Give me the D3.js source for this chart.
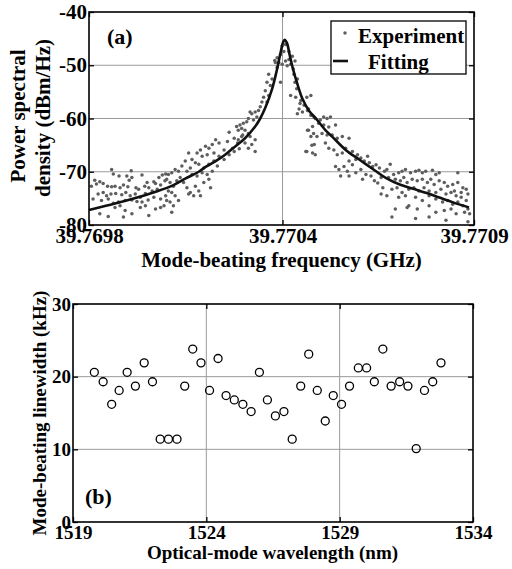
<!DOCTYPE html>
<html><head><meta charset="utf-8">
<script src="https://cdn.jsdelivr.net/npm/d3@7"></script>
<style>
body{margin:0;background:#fff}
text{font-family:"Liberation Serif","Times New Roman",serif;font-weight:bold;fill:#000}
</style>
</head><body>
<svg id="chart" width="512" height="569"></svg>
<script>
// ---------- Panel (a) data ----------
// x: frequency offset in kHz from 39.7698 GHz; y: PSD in dBm/Hz
const freqTickValues = [0, 573, 1140];
const freqTickLabels = ["39.7698", "39.7704", "39.7709"];
const psdTickValues = [-80, -70, -60, -50, -40];
const psdGrid = [-70, -60, -50];

const experimentPoints = [
[67,-69.6],[125,-69.8],[72,-70.4],[17,-71.6],[32,-71.9],[42,-72.2],[89,-70.8],[112,-70.8],[127,-71.1],[119,-71.6],[157,-70.6],[172,-72.0],[192,-71.9],[207,-71.1],[217,-70.6],[227,-70.4],
[7,-72.7],[22,-72.3],[55,-72.7],[67,-72.8],[77,-72.7],[92,-73.0],[102,-72.5],[115,-72.8],[139,-73.0],[147,-73.3],[165,-72.7],[177,-73.0],[197,-72.2],[212,-72.5],[225,-71.7],
[27,-74.2],[42,-73.9],[52,-74.5],[65,-74.2],[79,-74.1],[97,-74.3],[109,-73.9],[122,-74.5],[137,-74.2],[152,-74.8],[167,-74.1],[187,-73.6],[202,-73.3],
[12,-75.1],[37,-75.4],[57,-75.1],[72,-75.9],[87,-75.7],[107,-75.4],[127,-75.3],[142,-75.6],[157,-75.7],[175,-75.3],[192,-74.8],[212,-75.1],[227,-74.5],
[32,-77.9],[57,-78.4],[77,-76.7],[92,-76.4],[107,-77.3],[127,-77.9],[152,-76.7],[167,-76.4],[197,-77.0],[212,-76.7],[222,-76.4],[102,-78.5],[177,-78.2],
[415,-62.6],[430,-63.7],[410,-64.3],[440,-64.6],[455,-63.1],[425,-65.6],[400,-65.9],[385,-64.6],[375,-64.0],[365,-64.9],[355,-65.6],[345,-65.2],[330,-65.9],[320,-66.5],[335,-67.1],[350,-66.8],[370,-66.5],[385,-67.1],[400,-67.7],[415,-66.8],[430,-66.2],[445,-65.7],
[295,-66.5],[305,-67.7],[315,-68.3],[285,-68.0],[275,-68.9],[265,-69.9],[255,-69.6],[245,-70.2],[235,-70.5],[290,-69.9],[300,-69.3],[325,-68.6],[340,-69.3],[355,-68.6],[370,-68.0],[380,-68.9],[365,-69.9],[350,-70.5],[335,-70.2],[320,-70.8],[305,-70.5],
[230,-71.4],[240,-72.0],[250,-72.7],[260,-71.7],[270,-71.1],[280,-72.0],[290,-73.0],[300,-73.9],[315,-72.7],[325,-73.6],[340,-72.0],[355,-71.4],[360,-73.0],[330,-74.5],[310,-74.5],[295,-74.2],[245,-73.9],[235,-73.6],[255,-74.5],[240,-75.7],[250,-76.4],[265,-75.4],[245,-77.6],[230,-75.4],
[572,-46.4],[582,-46.1],[577,-47.4],[567,-48.0],[557,-48.6],[552,-49.5],[562,-49.5],[582,-49.2],[592,-48.9],[597,-49.8],[587,-50.1],[572,-49.8],[602,-48.3],[557,-50.4],[550,-49.1],[592,-47.4],
[532,-51.7],[542,-52.6],[527,-53.2],[537,-53.8],[522,-54.8],[532,-55.7],[517,-56.0],[512,-56.9],[527,-56.9],[507,-57.8],[502,-58.5],[492,-58.8],[482,-59.1],[477,-58.8],[497,-59.7],[487,-60.3],[472,-60.0],[467,-60.6],[457,-60.9],[447,-61.2],[437,-61.5],[442,-62.2],[452,-61.9],[462,-62.2],[472,-62.8],[477,-63.4],[452,-63.4],[442,-64.0],[462,-64.6],[482,-64.9],[567,-53.2],
[607,-51.7],[617,-52.6],[597,-55.7],[612,-56.0],[627,-56.6],[637,-57.5],[632,-58.8],[647,-58.5],[657,-59.4],[667,-59.8],[662,-61.5],[647,-62.2],[657,-63.4],[667,-64.9],[642,-66.2],[662,-66.5],[617,-59.1],[622,-58.2],
[492,-64.0],[472,-65.6],[492,-66.2],
[610,-49.2],[605,-50.7],[610,-53.2],[615,-54.4],[657,-55.7],[625,-57.2],
[645,-56.0],[650,-58.2],[660,-59.4],[670,-60.0],[685,-60.3],[695,-59.7],[705,-60.0],[715,-59.7],[680,-60.9],[695,-61.2],[710,-61.6],[730,-61.2],[650,-62.2],[665,-62.8],[675,-63.4],[690,-62.8],[705,-63.1],[720,-63.1],[735,-63.7],[750,-63.4],[770,-63.7],[660,-65.0],[645,-66.2],[670,-66.8],[700,-64.6],[710,-65.6],[725,-65.9],[735,-66.8],[750,-66.5],[760,-65.6],[780,-66.2],[795,-66.8],[790,-67.7],[805,-67.4],[815,-68.0],[825,-67.1],[830,-68.3],[840,-69.0],[850,-68.7],[860,-69.3],[770,-68.0],[780,-68.7],[755,-69.0],[740,-69.6],[765,-69.9],[790,-70.2],[805,-69.6],[820,-70.5],[835,-70.8],[845,-71.7],[855,-72.1],[865,-71.1],[870,-73.0],[865,-74.2],[745,-70.8],[770,-70.8],[730,-69.0],[810,-71.4],[875,-69.9],
[892,-68.6],[882,-69.6],[902,-70.5],[917,-70.2],[927,-69.9],[937,-69.6],[952,-70.2],[967,-69.9],[977,-69.7],[987,-70.2],[997,-69.9],[1017,-69.7],[1027,-70.5],[1037,-70.2],[1092,-70.2],
[887,-71.1],[907,-71.4],[922,-71.7],[932,-71.1],[942,-72.0],[957,-71.4],[972,-71.7],[987,-71.4],[1002,-72.0],[1012,-71.4],[1022,-72.4],[1037,-71.7],[1052,-72.0],[1062,-72.7],[1077,-72.4],[1092,-72.0],[1107,-73.0],[1117,-73.3],[1102,-73.9],
[897,-73.3],[912,-73.0],[927,-73.9],[947,-73.3],[962,-73.0],[977,-73.6],[992,-73.0],[1007,-73.6],[1027,-73.9],[1042,-73.3],[1057,-74.2],[1072,-73.9],[1087,-74.5],[1102,-74.8],[1117,-75.4],[1122,-74.2],[1082,-73.6],
[882,-74.5],[917,-74.8],[937,-74.5],[967,-74.8],[987,-75.4],[1007,-74.5],[1027,-75.1],[1047,-75.7],[1062,-75.4],[1077,-76.1],[1092,-75.7],[1107,-76.4],[1122,-77.0],
[907,-77.0],[942,-76.7],[947,-76.4],[972,-77.0],[1007,-76.4],[1027,-77.6],[1052,-77.3],[1072,-77.0],[1087,-77.9],[1112,-77.6],[1127,-77.9],
[897,-78.5],[967,-78.8],[1007,-78.5],[1057,-79.1],[1122,-79.4]
];

const fittingPoints = [
[0,-77.2],[50,-76.4],[100,-75.6],[150,-74.7],[200,-73.7],[250,-72.5],[285,-71.3],[325,-70.0],[345,-69.1],[375,-68.0],[405,-66.7],[432,-65.3],[462,-63.7],[492,-61.5],[507,-60.0],[522,-58.0],[542,-54.5],[557,-50.7],[567,-47.7],[574,-45.8],[579,-45.2],[586,-45.8],[594,-48.0],[604,-50.7],[617,-53.5],[632,-56.3],[652,-58.6],[672,-60.0],[700,-62.2],[720,-63.4],[760,-65.9],[800,-67.7],[852,-70.0],[880,-71.2],[920,-72.4],[960,-73.2],[1000,-74.0],[1040,-74.9],[1080,-75.8],[1125,-76.7]
];

// ---------- Panel (b) data ----------
const wavelengthTicks = [1519, 1524, 1529, 1534];
const linewidthTicks = [0, 10, 20, 30];
const wavelengths = [1519.80,1520.13,1520.45,1520.73,1521.03,1521.34,1521.67,1521.98,1522.27,1522.58,1522.90,1523.19,1523.49,1523.80,1524.12,1524.44,1524.74,1525.05,1525.37,1525.68,1525.99,1526.29,1526.59,1526.91,1527.22,1527.54,1527.84,1528.16,1528.46,1528.76,1529.07,1529.37,1529.70,1530.01,1530.30,1530.62,1530.93,1531.25,1531.56,1531.87,1532.18,1532.49,1532.80];
const linewidths = [20.6,19.3,16.2,18.1,20.6,18.7,21.9,19.3,11.4,11.4,11.4,18.7,23.8,21.9,18.1,22.5,17.4,16.8,16.2,15.2,20.6,16.8,14.6,15.2,11.4,18.7,23.1,18.1,13.9,17.4,16.2,18.7,21.2,21.2,19.3,23.8,18.7,19.3,18.7,10.1,18.1,19.3,21.9];

const svg = d3.select("#chart");

function drawPanel(cfg) {
  const g = svg.append("g");
  const {x, y, xTicks, yTicks, xGrid, yGrid, fs, xFmt, yFmt} = cfg;
  const [x0, x1] = x.range(), [y0, y1] = y.range();
  g.selectAll(".hg").data(yGrid).join("line")
    .attr("x1", x0).attr("x2", x1).attr("y1", d => y(d)).attr("y2", d => y(d))
    .attr("stroke", "#9a9a9a").attr("stroke-width", 1);
  g.selectAll(".vg").data(xGrid).join("line")
    .attr("y1", y0).attr("y2", y1).attr("x1", d => x(d)).attr("x2", d => x(d))
    .attr("stroke", "#9a9a9a").attr("stroke-width", 1);
  const ax = [
    g.append("g").attr("transform", `translate(0,${y0})`).call(d3.axisBottom(x).tickValues(xTicks).tickFormat(xFmt).tickSize(-5).tickPadding(3)),
    g.append("g").attr("transform", `translate(0,${y1})`).call(d3.axisTop(x).tickValues(xTicks).tickFormat("").tickSize(-5)),
    g.append("g").attr("transform", `translate(${x0},0)`).call(d3.axisLeft(y).tickValues(yTicks).tickFormat(yFmt).tickSize(-5).tickPadding(2)),
    g.append("g").attr("transform", `translate(${x1},0)`).call(d3.axisRight(y).tickValues(yTicks).tickFormat("").tickSize(-5))
  ];
  ax.forEach(a => {
    a.select(".domain").remove();
    a.selectAll("line").attr("stroke", "#000").attr("stroke-width", 1.3);
    a.selectAll("text").attr("font-size", fs).attr("font-family", '"Liberation Serif","Times New Roman",serif').attr("font-weight", "bold");
  });
  return g;
}

// ---------- Panel (a) ----------
const xa = d3.scaleLinear().domain([0, 1140]).range([89, 474]);
const ya = d3.scaleLinear().domain([-80, -40]).range([225, 12]);
const ga = drawPanel({x: xa, y: ya, xTicks: freqTickValues, yTicks: psdTickValues, xGrid: [freqTickValues[1]], yGrid: psdGrid, fs: 21,
  xFmt: (d, i) => freqTickLabels[i], yFmt: d => String(d)});

ga.append("g").selectAll("circle").data(experimentPoints).join("circle")
  .attr("cx", d => xa(d[0])).attr("cy", d => ya(d[1])).attr("r", 1.75).attr("fill", "#5e5e5e");

ga.append("path").datum(fittingPoints)
  .attr("d", d3.line().x(d => xa(d[0])).y(d => ya(d[1])).curve(d3.curveCatmullRom.alpha(0.5)))
  .attr("fill", "none").attr("stroke", "#111").attr("stroke-width", 2.6);

ga.append("rect").attr("x", 89).attr("y", 12).attr("width", 474 - 89).attr("height", 225 - 12)
  .attr("fill", "none").attr("stroke", "#000").attr("stroke-width", 1.6);

const lg = ga.append("g");
lg.append("rect").attr("x", 331).attr("y", 21).attr("width", 135).attr("height", 53)
  .attr("fill", "#fff").attr("stroke", "#000").attr("stroke-width", 1.3);
lg.append("circle").attr("cx", 345).attr("cy", 33).attr("r", 1.75).attr("fill", "#5e5e5e");
lg.append("text").attr("x", 358).attr("y", 43).attr("font-size", 21).text("Experiment");
lg.append("line").attr("x1", 333).attr("x2", 348).attr("y1", 61).attr("y2", 61).attr("stroke", "#111").attr("stroke-width", 2.6);
lg.append("text").attr("x", 368).attr("y", 69).attr("font-size", 21).text("Fitting");

ga.append("text").attr("x", 107).attr("y", 44).attr("font-size", 22).text("(a)");
ga.append("text").attr("x", 281.5).attr("y", 267).attr("text-anchor", "middle").attr("font-size", 21).text("Mode-beating frequency (GHz)");
ga.append("text").attr("transform", "translate(25,116) rotate(-90)").attr("text-anchor", "middle").attr("font-size", 21).text("Power spectral");
ga.append("text").attr("transform", "translate(50,118) rotate(-90)").attr("text-anchor", "middle").attr("font-size", 21).text("density (dBm/Hz)");

// ---------- Panel (b) ----------
const xb = d3.scaleLinear().domain([1519, 1534]).range([73, 473]);
const yb = d3.scaleLinear().domain([0, 30]).range([522, 304]);
const gb = drawPanel({x: xb, y: yb, xTicks: wavelengthTicks, yTicks: linewidthTicks, xGrid: [1524, 1529], yGrid: [10, 20], fs: 19,
  xFmt: d => String(d), yFmt: d => String(d)});

gb.append("g").selectAll("circle").data(wavelengths).join("circle")
  .attr("cx", d => xb(d)).attr("cy", (d, i) => yb(linewidths[i])).attr("r", 4)
  .attr("fill", "none").attr("stroke", "#000").attr("stroke-width", 1.3);

gb.append("rect").attr("x", 73).attr("y", 304).attr("width", 400).attr("height", 218)
  .attr("fill", "none").attr("stroke", "#000").attr("stroke-width", 1.6);

gb.append("text").attr("x", 85).attr("y", 504).attr("font-size", 22).text("(b)");
gb.append("text").attr("x", 272.5).attr("y", 559).attr("text-anchor", "middle").attr("font-size", 19).text("Optical-mode wavelength (nm)");
gb.append("text").attr("transform", "translate(46,413) rotate(-90)").attr("text-anchor", "middle").attr("font-size", 19).text("Mode-beating linewidth (kHz)");
</script>
</body></html>
